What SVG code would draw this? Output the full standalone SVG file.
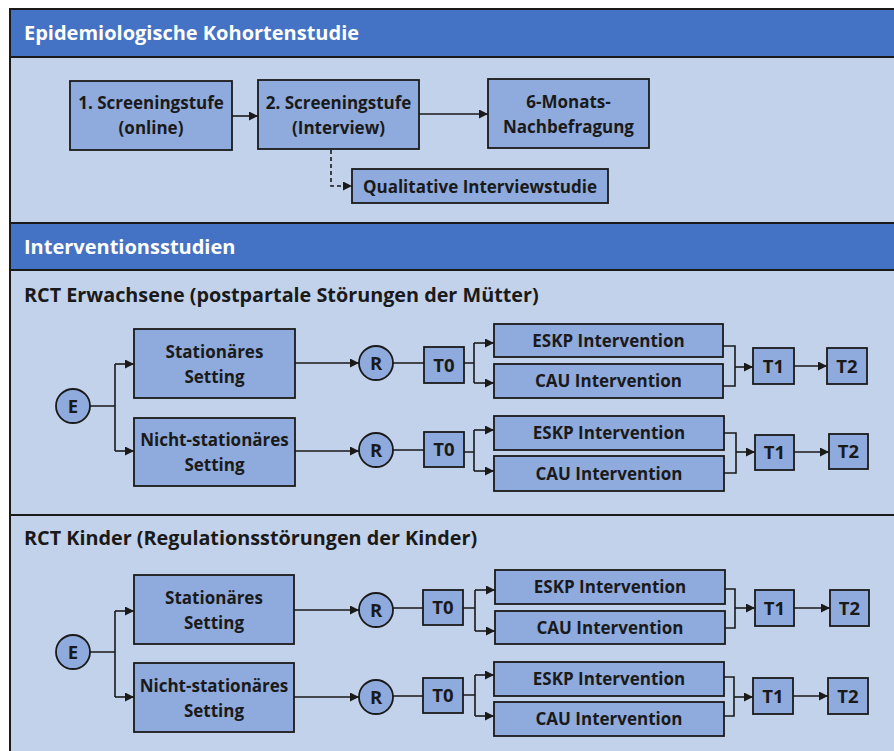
<svg xmlns="http://www.w3.org/2000/svg" width="894" height="751" viewBox="0 0 894 751">
<defs>
<style>
.hdr{fill:#4472C4;stroke:#1a1a1a;stroke-width:2}
.bg{fill:#C2D2EA;stroke:#1a1a1a;stroke-width:2}
.box{fill:#8FAADC;stroke:#1a1a1a;stroke-width:1.8}
.t{font-family:"Open Sans","Liberation Sans",sans-serif;font-weight:700;fill:#1a1a1a}
.h{font-family:"Open Sans","Liberation Sans",sans-serif;font-weight:700;fill:#ffffff;font-size:20px}
.s{font-size:19.8px}
.b{font-size:17px;text-anchor:middle}
.k{font-size:18.5px}
.c{fill:none;stroke:#1a1a1a;stroke-width:1.6}
.d{stroke-dasharray:4 3}
</style>
<marker id="ah" markerUnits="userSpaceOnUse" markerWidth="10" markerHeight="10" refX="9" refY="4.5" orient="auto">
<path d="M0,0 L9,4.5 L0,9 z" fill="#1a1a1a"/>
</marker>
</defs>
<rect class="bg" x="10" y="57" width="900" height="166"/>
<rect class="bg" x="10" y="270" width="900" height="245"/>
<rect class="bg" x="10" y="515" width="900" height="250"/>
<rect class="hdr" x="10" y="9" width="900" height="48"/>
<rect class="hdr" x="10" y="223" width="900" height="47"/>
<text class="h" x="24" y="40">Epidemiologische Kohortenstudie</text>
<text class="h" x="24" y="254">Interventionsstudien</text>
<text class="t s" x="24" y="302">RCT Erwachsene (postpartale Störungen der Mütter)</text>
<text class="t s" x="24" y="545">RCT Kinder (Regulationsstörungen der Kinder)</text>

<g id="connectors">
<path class="c" d="M232,116 H258" marker-end="url(#ah)"/>
<path class="c" d="M419,114 H488" marker-end="url(#ah)"/>
<path class="c d" d="M331,150 V186 H352" marker-end="url(#ah)"/>

<path class="c" d="M90,406 H115 M115,364 V451"/>
<path class="c" d="M115,364 H134" marker-end="url(#ah)"/>
<path class="c" d="M115,451 H134" marker-end="url(#ah)"/>
<path class="c" d="M295,363 H359" marker-end="url(#ah)"/>
<path class="c" d="M295,451 H359" marker-end="url(#ah)"/>
<path class="c" d="M393,363 H424 M393,450 H424"/>
<path class="c" d="M464,363 H474 M474,343 V383 M464,452 H474 M474,430 V471"/>
<path class="c" d="M474,343 H494" marker-end="url(#ah)"/>
<path class="c" d="M474,383 H494" marker-end="url(#ah)"/>
<path class="c" d="M474,430 H494" marker-end="url(#ah)"/>
<path class="c" d="M474,471 H494" marker-end="url(#ah)"/>
<path class="c" d="M723,346 H735 V386 H723 M724,433 H736 V473 H724"/>
<path class="c" d="M735,367 H753" marker-end="url(#ah)"/>
<path class="c" d="M736,452 H755" marker-end="url(#ah)"/>
<path class="c" d="M794,366 H827" marker-end="url(#ah)"/>
<path class="c" d="M794,452 H829" marker-end="url(#ah)"/>

<path class="c" d="M90,652 H115 M115,611 V697"/>
<path class="c" d="M115,611 H134" marker-end="url(#ah)"/>
<path class="c" d="M115,697 H134" marker-end="url(#ah)"/>
<path class="c" d="M294,610 H359" marker-end="url(#ah)"/>
<path class="c" d="M294,697 H359" marker-end="url(#ah)"/>
<path class="c" d="M393,608 H423 M393,696 H423"/>
<path class="c" d="M463,608 H475 M475,590 V631 M463,695 H475 M475,675 V716"/>
<path class="c" d="M475,590 H495" marker-end="url(#ah)"/>
<path class="c" d="M475,631 H495" marker-end="url(#ah)"/>
<path class="c" d="M475,675 H494" marker-end="url(#ah)"/>
<path class="c" d="M475,716 H494" marker-end="url(#ah)"/>
<path class="c" d="M725,589 H735 V628 H725 M724,677 H734 V716 H724"/>
<path class="c" d="M735,608 H755" marker-end="url(#ah)"/>
<path class="c" d="M734,697 H753" marker-end="url(#ah)"/>
<path class="c" d="M794,608 H830" marker-end="url(#ah)"/>
<path class="c" d="M793,696 H828" marker-end="url(#ah)"/>
</g>

<g id="n-screen1"><rect class="box" x="70" y="81" width="162" height="69"/><text class="t b" x="151" y="109">1. Screeningstufe</text><text class="t b" x="151" y="134">(online)</text></g>
<g id="n-screen2"><rect class="box" x="258" y="80" width="161" height="69"/><text class="t b" x="338.5" y="109">2. Screeningstufe</text><text class="t b" x="338.5" y="134">(Interview)</text></g>
<g id="n-6m"><rect class="box" x="488" y="79" width="161" height="69"/><text class="t b" x="568.5" y="108">6-Monats-</text><text class="t b" x="568.5" y="133">Nachbefragung</text></g>
<g id="n-qual"><rect class="box" x="352" y="169" width="256" height="34"/><text class="t b" x="480" y="192.5">Qualitative Interviewstudie</text></g>

<g id="a-E"><circle class="box" cx="73" cy="406" r="17"/><text class="t b k" x="73" y="412.5">E</text></g>
<g id="a-stat"><rect class="box" x="134" y="329" width="161" height="69"/><text class="t b" x="214.5" y="358">Stationäres</text><text class="t b" x="214.5" y="383">Setting</text></g>
<g id="a-nstat"><rect class="box" x="134" y="418" width="161" height="68"/><text class="t b" x="214.5" y="446">Nicht-stationäres</text><text class="t b" x="214.5" y="471">Setting</text></g>
<g id="a-R1"><circle class="box" cx="376" cy="363" r="17"/><text class="t b k" x="376" y="369.5">R</text></g>
<g id="a-R2"><circle class="box" cx="376" cy="450" r="17"/><text class="t b k" x="376" y="456.5">R</text></g>
<g id="a-T0a"><rect class="box" x="424" y="347" width="40" height="36"/><text class="t b k" x="444" y="371.5">T0</text></g>
<g id="a-T0b"><rect class="box" x="424" y="432" width="40" height="35"/><text class="t b k" x="444" y="456">T0</text></g>
<g id="a-eskp1"><rect class="box" x="494" y="324" width="229" height="33"/><text class="t b" x="608.5" y="346.5">ESKP Intervention</text></g>
<g id="a-cau1"><rect class="box" x="494" y="364" width="229" height="34"/><text class="t b" x="608.5" y="387">CAU Intervention</text></g>
<g id="a-eskp2"><rect class="box" x="494" y="416" width="230" height="34"/><text class="t b" x="609" y="439">ESKP Intervention</text></g>
<g id="a-cau2"><rect class="box" x="494" y="456" width="230" height="35"/><text class="t b" x="609" y="479.5">CAU Intervention</text></g>
<g id="a-T1a"><rect class="box" x="753" y="348" width="41" height="36"/><text class="t b k" x="773.5" y="372.5">T1</text></g>
<g id="a-T2a"><rect class="box" x="827" y="348" width="40" height="36"/><text class="t b k" x="847" y="372.5">T2</text></g>
<g id="a-T1b"><rect class="box" x="755" y="435" width="39" height="35"/><text class="t b k" x="774.5" y="459">T1</text></g>
<g id="a-T2b"><rect class="box" x="829" y="434" width="39" height="35"/><text class="t b k" x="848.5" y="458">T2</text></g>

<g id="k-E"><circle class="box" cx="73" cy="652" r="17"/><text class="t b k" x="73" y="658.5">E</text></g>
<g id="k-stat"><rect class="box" x="134" y="575" width="160" height="69"/><text class="t b" x="214" y="604">Stationäres</text><text class="t b" x="214" y="629">Setting</text></g>
<g id="k-nstat"><rect class="box" x="134" y="663" width="160" height="69"/><text class="t b" x="214" y="692">Nicht-stationäres</text><text class="t b" x="214" y="717">Setting</text></g>
<g id="k-R1"><circle class="box" cx="376" cy="610" r="17"/><text class="t b k" x="376" y="616.5">R</text></g>
<g id="k-R2"><circle class="box" cx="376" cy="697" r="17"/><text class="t b k" x="376" y="703.5">R</text></g>
<g id="k-T0a"><rect class="box" x="423" y="590" width="40" height="35"/><text class="t b k" x="443" y="614">T0</text></g>
<g id="k-T0b"><rect class="box" x="423" y="678" width="40" height="35"/><text class="t b k" x="443" y="702">T0</text></g>
<g id="k-eskp1"><rect class="box" x="495" y="570" width="230" height="34"/><text class="t b" x="610" y="593">ESKP Intervention</text></g>
<g id="k-cau1"><rect class="box" x="495" y="611" width="230" height="33"/><text class="t b" x="610" y="633.5">CAU Intervention</text></g>
<g id="k-eskp2"><rect class="box" x="494" y="662" width="230" height="34"/><text class="t b" x="609" y="685">ESKP Intervention</text></g>
<g id="k-cau2"><rect class="box" x="494" y="702" width="230" height="34"/><text class="t b" x="609" y="725">CAU Intervention</text></g>
<g id="k-T1a"><rect class="box" x="755" y="590" width="39" height="36"/><text class="t b k" x="774.5" y="614.5">T1</text></g>
<g id="k-T2a"><rect class="box" x="830" y="590" width="39" height="36"/><text class="t b k" x="849.5" y="614.5">T2</text></g>
<g id="k-T1b"><rect class="box" x="753" y="678" width="40" height="36"/><text class="t b k" x="773" y="702.5">T1</text></g>
<g id="k-T2b"><rect class="box" x="828" y="678" width="40" height="36"/><text class="t b k" x="848" y="702.5">T2</text></g>
</svg>
